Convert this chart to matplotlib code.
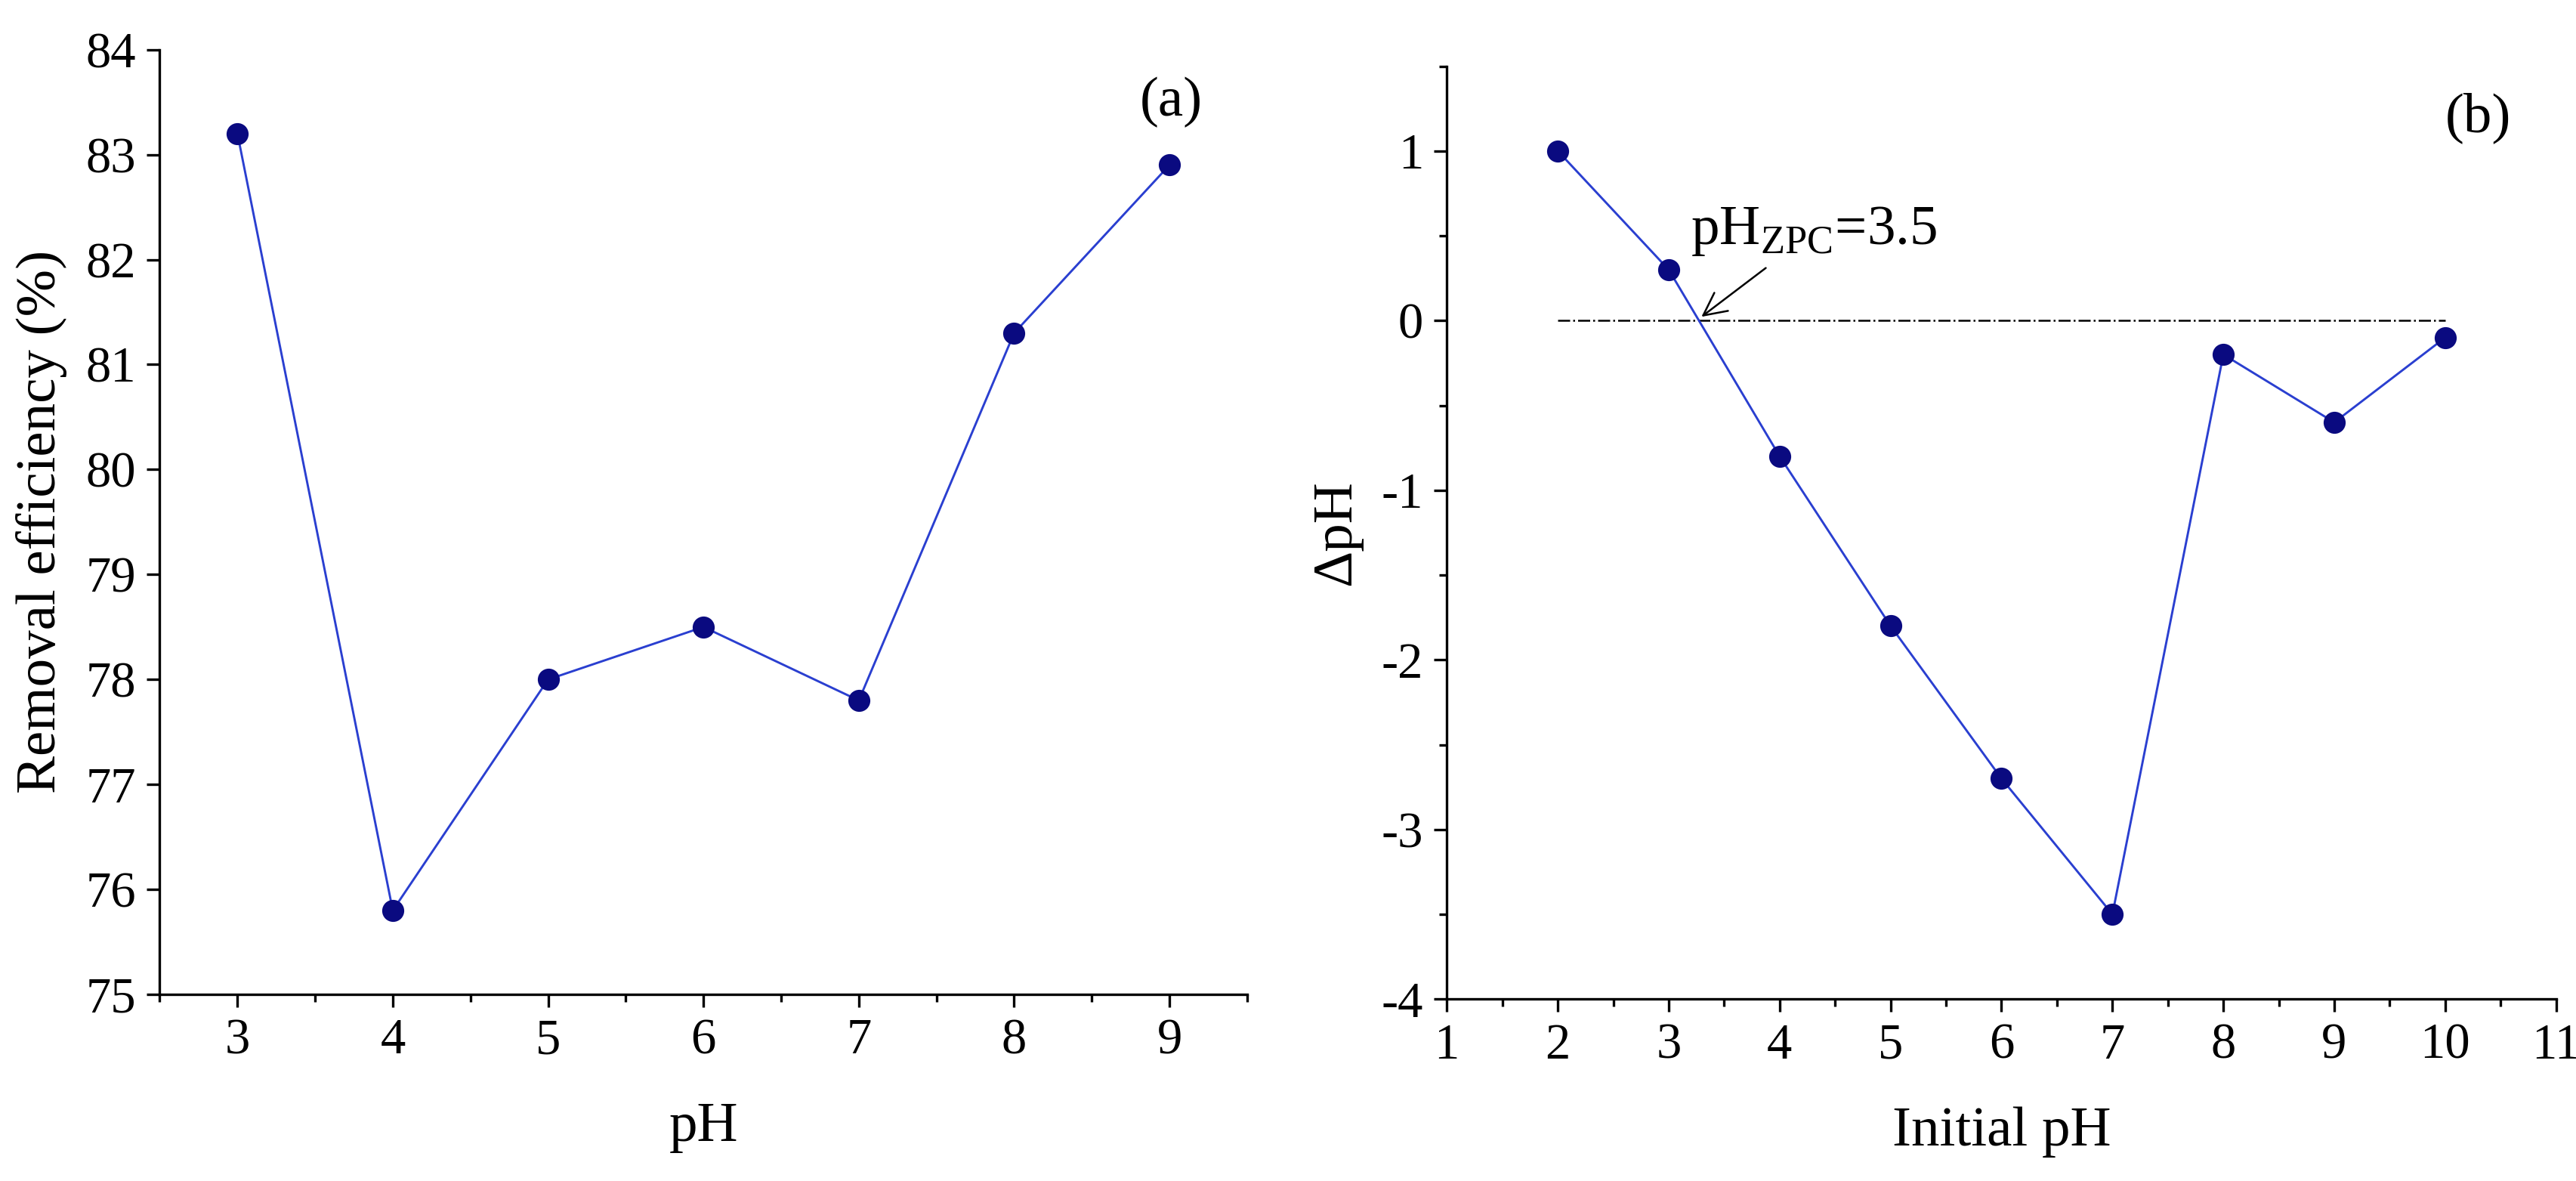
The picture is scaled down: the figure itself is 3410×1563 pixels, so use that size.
import matplotlib
matplotlib.use("Agg")
import matplotlib.pyplot as plt
from matplotlib.ticker import MultipleLocator

plt.rcParams['font.family'] = ['Liberation Serif', 'DejaVu Serif']
plt.rcParams['mathtext.fontset'] = 'custom'
plt.rcParams['mathtext.rm'] = 'Liberation Serif'
plt.rcParams['axes.unicode_minus'] = False

# (a) removal efficiency vs pH
ph_a = [3, 4, 5, 6, 7, 8, 9]
removal = [83.2, 75.8, 78.0, 78.5, 77.8, 81.3, 82.9]

# (b) delta pH vs initial pH
ph_b = [2, 3, 4, 5, 6, 7, 8, 9, 10]
delta_ph = [1.0, 0.3, -0.8, -1.8, -2.7, -3.5, -0.2, -0.6, -0.1]

MARKER = "#0a0a80"
LINE = "#2a3fd0"
TICK_FS = 16
LABEL_FS = 18

fig = plt.figure(figsize=(3411 / 300, 1563 / 300), dpi=300)
ax_a = fig.add_axes([0.062, 0.158, 0.422, 0.800])
ax_b = fig.add_axes([0.5615, 0.154, 0.4305, 0.790])


def style(ax):
    for side in ("top", "right"):
        ax.spines[side].set_visible(False)
    for side in ("left", "bottom"):
        ax.spines[side].set_linewidth(0.8)
    ax.tick_params(which="major", direction="out", length=4, width=0.8, labelsize=TICK_FS)
    ax.tick_params(which="minor", direction="out", length=2.5, width=0.8)


ax_a.plot(ph_a, removal, color=LINE, linewidth=0.7, marker="o", markersize=6,
          markerfacecolor=MARKER, markeredgecolor=MARKER)
ax_a.set_xlim(2.5, 9.5)
ax_a.set_ylim(75, 84)
ax_a.xaxis.set_major_locator(MultipleLocator(1))
ax_a.xaxis.set_minor_locator(MultipleLocator(0.5))
ax_a.yaxis.set_major_locator(MultipleLocator(1))
ax_a.set_xlabel("pH", fontsize=LABEL_FS, labelpad=12)
ax_a.set_ylabel("Removal efficiency (%)", fontsize=LABEL_FS, labelpad=6)
ax_a.text(0.93, 0.93, "(a)", transform=ax_a.transAxes, fontsize=LABEL_FS, ha="center")
style(ax_a)

ax_b.plot([2, 10], [0, 0], color="black", linewidth=0.6, linestyle="-.")
ax_b.plot(ph_b, delta_ph, color=LINE, linewidth=0.7, marker="o", markersize=6,
          markerfacecolor=MARKER, markeredgecolor=MARKER)
ax_b.set_xlim(1, 11)
ax_b.set_ylim(-4, 1.5)
ax_b.xaxis.set_major_locator(MultipleLocator(1))
ax_b.xaxis.set_minor_locator(MultipleLocator(0.5))
ax_b.yaxis.set_major_locator(MultipleLocator(1))
ax_b.yaxis.set_minor_locator(MultipleLocator(0.5))
ax_b.set_xlabel("Initial pH", fontsize=LABEL_FS, labelpad=12)
ax_b.set_ylabel("ΔpH", fontsize=LABEL_FS, labelpad=6)
ax_b.text(0.93, 0.93, "(b)", transform=ax_b.transAxes, fontsize=LABEL_FS, ha="center")
ax_b.annotate(r"pH$_{\mathrm{ZPC}}$=3.5", xy=(3.25, 0.0), xytext=(3.2, 0.45),
              fontsize=LABEL_FS, arrowprops=dict(arrowstyle="->", color="black", lw=0.6))
style(ax_b)

fig.savefig("out.png", dpi=300)
